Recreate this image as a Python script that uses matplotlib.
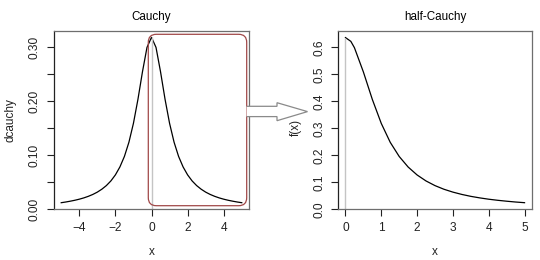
import matplotlib
matplotlib.use("Agg")
import matplotlib.pyplot as plt
import matplotlib.patches as mpatches
from matplotlib.path import Path

plt.rcParams['font.family'] = ['Liberation Sans', 'DejaVu Sans']

# values
x_full = [-5.0, -4.75, -4.5, -4.25, -4.0, -3.75, -3.5, -3.25, -3.0, -2.75, -2.5, -2.25,
          -2.0, -1.75, -1.5, -1.25, -1.0, -0.75, -0.5, -0.25, 0.0,
          0.25, 0.5, 0.75, 1.0, 1.25, 1.5, 1.75, 2.0, 2.25, 2.5, 2.75,
          3.0, 3.25, 3.5, 3.75, 4.0, 4.25, 4.5, 4.75, 5.0]
dcauchy = [0.0122, 0.0135, 0.0150, 0.0167, 0.0187, 0.0211, 0.0240, 0.0275, 0.0318, 0.0372,
           0.0439, 0.0525, 0.0637, 0.0784, 0.0979, 0.1242, 0.1592, 0.2037, 0.2546, 0.2996,
           0.3183,
           0.2996, 0.2546, 0.2037, 0.1592, 0.1242, 0.0979, 0.0784, 0.0637, 0.0525, 0.0439,
           0.0372, 0.0318, 0.0275, 0.0240, 0.0211, 0.0187, 0.0167, 0.0150, 0.0135, 0.0122]
x_half = [0.0, 0.15, 0.25, 0.5, 0.75, 1.0, 1.25, 1.5, 1.75, 2.0, 2.25, 2.5, 2.75,
          3.0, 3.25, 3.5, 3.75, 4.0, 4.25, 4.5, 4.75, 5.0]
fx_half = [0.6366, 0.6226, 0.5992, 0.5093, 0.4074, 0.3183, 0.2483, 0.1959, 0.1567, 0.1273,
           0.1050, 0.0878, 0.0743, 0.0637, 0.0551, 0.0480, 0.0423, 0.0374, 0.0334, 0.0300,
           0.0270, 0.0245]

W, H = 540, 260
fig = plt.figure(figsize=(5.4, 2.6), dpi=100)

def px_axes(x0, x1, ytop, ybot):
    return fig.add_axes([x0 / W, 1 - ybot / H, (x1 - x0) / W, (ybot - ytop) / H])

ax1 = px_axes(54, 249, 31, 209.3)
ax2 = px_axes(338.3, 531.7, 31, 209.3)

ax1.plot(x_full, dcauchy, color='black', lw=0.9)
ax1.vlines(0, 0, dcauchy[x_full.index(0.0)], color='#c4c4c4', lw=1.0)
ax1.set_xlim(-5.4, 5.4)
ax1.set_ylim(0, 0.33)
ax1.set_xticks([-4, -2, 0, 2, 4])
ax1.set_yticks([0, 0.05, 0.10, 0.15, 0.20, 0.25, 0.30])
ax1.set_yticklabels(['0.00', '', '0.10', '', '0.20', '', '0.30'])
ax1.set_title('Cauchy', fontsize=8.4, pad=8)
ax1.set_xlabel('x', fontsize=8.5)
ax1.set_ylabel('dcauchy', fontsize=8.5)

ax2.plot(x_half, fx_half, color='black', lw=0.9)
ax2.vlines(0, 0, fx_half[0], color='#c4c4c4', lw=1.0)
ax2.set_xlim(-0.2, 5.2)
ax2.set_ylim(0, 0.661)
ax2.set_xticks([0, 1, 2, 3, 4, 5])
ax2.set_yticks([0, 0.1, 0.2, 0.3, 0.4, 0.5, 0.6])
ax2.set_yticklabels(['0.0', '0.1', '0.2', '0.3', '0.4', '0.5', '0.6'])
ax2.set_title('half-Cauchy', fontsize=8.4, pad=8)
ax2.set_xlabel('x', fontsize=8.5)
ax2.set_ylabel('f(x)', fontsize=8.5)

for ax in (ax1, ax2):
    ax.tick_params(length=5, width=0.8, labelsize=8.6, colors='#222222', pad=4.5)
    for lab in ax.get_yticklabels():
        lab.set_rotation(90)
        lab.set_va('center')
    for side in ('top', 'right'):
        ax.spines[side].set_color('#6e6e6e')
    ax.spines['left'].set_color('#222222')
    ax.spines['bottom'].set_color('#6e6e6e')
    for sp in ax.spines.values():
        sp.set_linewidth(0.9)
    ax.xaxis.label.set_color('#222222')
    ax.yaxis.label.set_color('#222222')
ax1.yaxis.set_label_coords(-0.19, 0.5)
ax2.yaxis.set_label_coords(-0.19, 0.46)
ax1.xaxis.set_label_coords(0.5, -0.205)
ax2.xaxis.set_label_coords(0.5, -0.205)

# overlay in pixel coordinates for the highlight box and the arrow
ov = fig.add_axes([0, 0, 1, 1], zorder=5)
ov.set_xlim(0, W)
ov.set_ylim(H, 0)
ov.axis('off')
ov.patch.set_alpha(0)

box = mpatches.FancyBboxPatch((148.3, 34.3), 246.7 - 148.3, 205.7 - 34.3,
                              boxstyle='round,pad=0,rounding_size=8',
                              fill=False, edgecolor='#a04848', lw=0.9)
ov.add_patch(box)

verts = [(246.5, 106.3), (277, 106.3), (277, 102.7), (307.5, 111.6),
         (277, 120.7), (277, 116.6), (246.5, 116.6)]
codes = [Path.MOVETO] + [Path.LINETO] * 6
arrow = mpatches.PathPatch(Path(verts, codes), facecolor='white',
                           edgecolor='#8a8a8a', lw=0.9)
ov.add_patch(arrow)

fig.savefig('out.png', dpi=100)
